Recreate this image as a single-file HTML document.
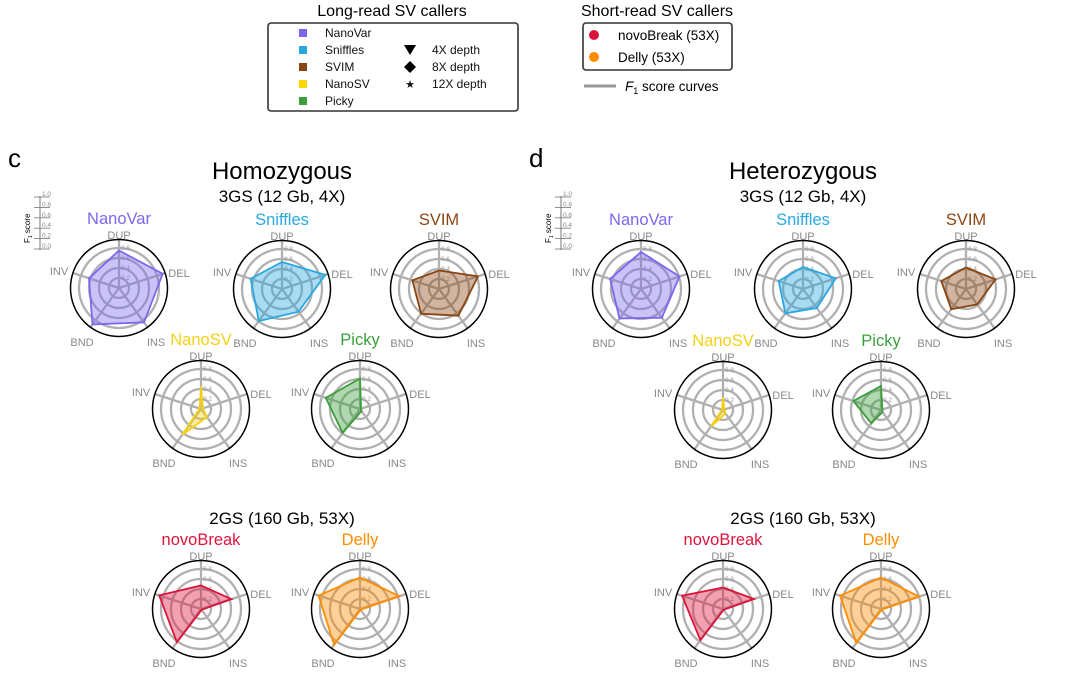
<!DOCTYPE html>
<html><head><meta charset="utf-8">
<style>
body{margin:0;background:#fff;}
svg{display:block;font-family:"Liberation Sans",Arial,sans-serif;}
</style></head>
<body>
<svg id="fig" width="1070" height="687" viewBox="0 0 1070 687" xmlns="http://www.w3.org/2000/svg">
  <g>
    <text x="392" y="16" font-size="16" text-anchor="middle">Long-read SV callers</text>
    <rect x="268" y="23" width="250" height="88" rx="3" fill="none" stroke="#333" stroke-width="1.6"/>
    <g font-size="12" fill="#111">
      <rect x="299" y="29" width="8" height="8" fill="#7b68ee"/><text x="325" y="37">NanoVar</text>
      <rect x="299" y="46" width="8" height="8" fill="#29a8e0"/><text x="325" y="54">Sniffles</text>
      <rect x="299" y="63" width="8" height="8" fill="#8b4513"/><text x="325" y="71">SVIM</text>
      <rect x="299" y="80" width="8" height="8" fill="#ffd700"/><text x="325" y="88">NanoSV</text>
      <rect x="299" y="97" width="8" height="8" fill="#3a9e3a"/><text x="325" y="105">Picky</text>
      <polygon points="404,45 416,45 410,55" fill="#000"/><text x="432" y="54">4X depth</text>
      <polygon points="410,61 416,67 410,73 404,67" fill="#000"/><text x="432" y="71">8X depth</text>
      <text x="410" y="88" font-size="11" text-anchor="middle">★</text><text x="432" y="88">12X depth</text>
    </g>
  </g>
  <g>
    <text x="657" y="16" font-size="16" text-anchor="middle">Short-read SV callers</text>
    <rect x="583" y="23" width="149" height="47" rx="3" fill="none" stroke="#333" stroke-width="1.6"/>
    <circle cx="594" cy="35" r="5" fill="#dc143c"/>
    <text x="618" y="40" font-size="13.5">novoBreak (53X)</text>
    <circle cx="594" cy="57" r="5" fill="#ff8c00"/>
    <text x="618" y="62" font-size="13.5">Delly (53X)</text>
    <line x1="584" y1="86" x2="616" y2="86" stroke="#999" stroke-width="3"/>
    <text x="625" y="91" font-size="13.5"><tspan font-style="italic">F</tspan><tspan font-size="9" dy="3">1</tspan><tspan dy="-3"> score curves</tspan></text>
  </g>
  <g id="panels"></g>
</svg>
<script>
const axesLabels = ["DUP", "DEL", "INS", "BND", "INV"];
const ringTicks = [0.2, 0.4, 0.6, 0.8];
const scaleTicks = ["1.0", "0.8", "0.6", "0.4", "0.2", "0.0"];
const callerNames = ["NanoVar", "Sniffles", "SVIM", "NanoSV", "Picky", "novoBreak", "Delly"];
const callerColors = ["#7b68ee", "#29a8e0", "#8b4513", "#f5d015", "#3a9e3a", "#dc143c", "#ff8c00"];
// values ordered DUP, DEL, INS, BND, INV
const homNanoVar = [0.75, 0.92, 0.85, 0.90, 0.63];
const homSniffles = [0.54, 0.91, 0.56, 0.79, 0.66];
const homSVIM = [0.37, 0.82, 0.66, 0.61, 0.56];
const homNanoSV = [0.46, 0.04, 0.20, 0.64, 0.03];
const homPicky = [0.61, 0.02, 0.05, 0.59, 0.72];
const homNovoBreak = [0.47, 0.64, 0.02, 0.82, 0.88];
const homDelly = [0.63, 0.83, 0.02, 0.88, 0.87];
const hetNanoVar = [0.74, 0.81, 0.71, 0.73, 0.65];
const hetSniffles = [0.44, 0.69, 0.47, 0.60, 0.51];
const hetSVIM = [0.43, 0.62, 0.38, 0.50, 0.52];
const hetNanoSV = [0.25, 0.03, 0.09, 0.41, 0.02];
const hetPicky = [0.48, 0.03, 0.05, 0.33, 0.58];
const hetNovoBreak = [0.43, 0.65, 0.02, 0.77, 0.86];
const hetDelly = [0.63, 0.80, 0.02, 0.84, 0.86];

const NS = "http://www.w3.org/2000/svg";
const root = document.getElementById("panels");
const R = 50;
const labelOff = [[0, -53], [60, -15], [37, 54], [-37, 54], [-60, -17]];
function mk(tag, attrs, parent, txt) {
  const e = document.createElementNS(NS, tag);
  for (const k in attrs) e.setAttribute(k, attrs[k]);
  if (txt !== undefined) e.textContent = txt;
  parent.appendChild(e);
  return e;
}
function angle(i) { return (90 - 72 * i) * Math.PI / 180; }
function px(cx, v, i) { return cx + v * R * Math.cos(angle(i)); }
function py(cy, v, i) { return cy - v * R * Math.sin(angle(i)); }

function radar(cx, cy, idx, vals, prefix) {
  const g = mk("g", {}, root);
  
  
  const col = callerColors[idx];
  const t = mk("text", {x: cx, y: cy - 64, "font-size": 16.5, fill: col, "text-anchor": "middle"}, g, callerNames[idx]);
  
  
  ringTicks.forEach(v => {
    const c = mk("circle", {cx: cx, cy: cy, r: v * R, fill: "none", stroke: "#b0b0b0", "stroke-width": 2.3}, g);
    
    
  });
  axesLabels.forEach((lab, i) => {
    const l = mk("line", {x1: cx, y1: cy, x2: px(cx, 0.97, i), y2: py(cy, 0.97, i), stroke: "#b0b0b0", "stroke-width": 2.3}, g);
    
    
    const tx = mk("text", {x: cx + labelOff[i][0], y: cy + labelOff[i][1] + 4, "font-size": 11, fill: "#888", "text-anchor": "middle"}, g, lab);
    
    
  });
  const bc = mk("circle", {cx: cx, cy: cy, r: 48.5, fill: "none", stroke: "#000", "stroke-width": 1.5}, g);
  
  
  ringTicks.forEach(v => {
    const tk = mk("text", {x: cx + 2, y: cy - v * R + 2, "font-size": 6.5, fill: "#999"}, g, v.toFixed(1));
    
    
  });
  const pts = vals.map((v, i) => px(cx, v, i).toFixed(1) + "," + py(cy, v, i).toFixed(1)).join(" ");
  const p = mk("polygon", {points: pts, fill: col, "fill-opacity": 0.4, stroke: col, "stroke-width": 1.8}, g);
  
  
}

function panel(dx, letter, title, sets, prefix) {
  const g = mk("g", {}, root);
  
  
  const a = mk("text", {x: 8 + dx, y: 167, "font-size": 26}, g, letter);
  
  
  const b = mk("text", {x: 282 + dx, y: 179, "font-size": 24, "text-anchor": "middle"}, g, title);
  
  
  const c = mk("text", {x: 282 + dx, y: 202, "font-size": 17, "text-anchor": "middle"}, g, "3GS (12 Gb, 4X)");
  
  
  const d = mk("text", {x: 282 + dx, y: 524, "font-size": 17, "text-anchor": "middle"}, g, "2GS (160 Gb, 53X)");
  
  
  const s = mk("g", {}, g);
  
  
  mk("line", {x1: 40 + dx, y1: 196, x2: 40 + dx, y2: 250, stroke: "#777", "stroke-width": 1}, s);
  scaleTicks.forEach((lab, i) => {
    const y = 197 + i * 10.4;
    mk("line", {x1: 34 + dx, y1: y, x2: 50 + dx, y2: y, stroke: "#777", "stroke-width": 0.8}, s);
    mk("text", {x: 42 + dx, y: y - 1, "font-size": 6.5, fill: "#888"}, s, lab);
  });
  const f = mk("text", {x: 0, y: 0, "font-size": 8, transform: "translate(" + (30 + dx) + ",243) rotate(-90)"}, s, "F");
  
  
  mk("tspan", {"font-size": 5, dy: 2}, f, "1");
  mk("tspan", {dy: -2}, f, " score");
  sets.forEach(sp => radar(sp[0] + dx, sp[1], sp[2], sp[3], prefix));
}

panel(0, "c", "Homozygous", [
  [119, 288, 0, homNanoVar], [282, 289, 1, homSniffles], [439, 289, 2, homSVIM],
  [201, 409, 3, homNanoSV], [360, 409, 4, homPicky],
  [201, 609, 5, homNovoBreak], [360, 609, 6, homDelly]
], "homozygous");
panel(521, "d", "Heterozygous", [
  [120, 289, 0, hetNanoVar], [282, 289, 1, hetSniffles], [445, 289, 2, hetSVIM],
  [202, 410, 3, hetNanoSV], [360, 410, 4, hetPicky],
  [202, 609, 5, hetNovoBreak], [360, 609, 6, hetDelly]
], "heterozygous");
</script>
</body></html>
